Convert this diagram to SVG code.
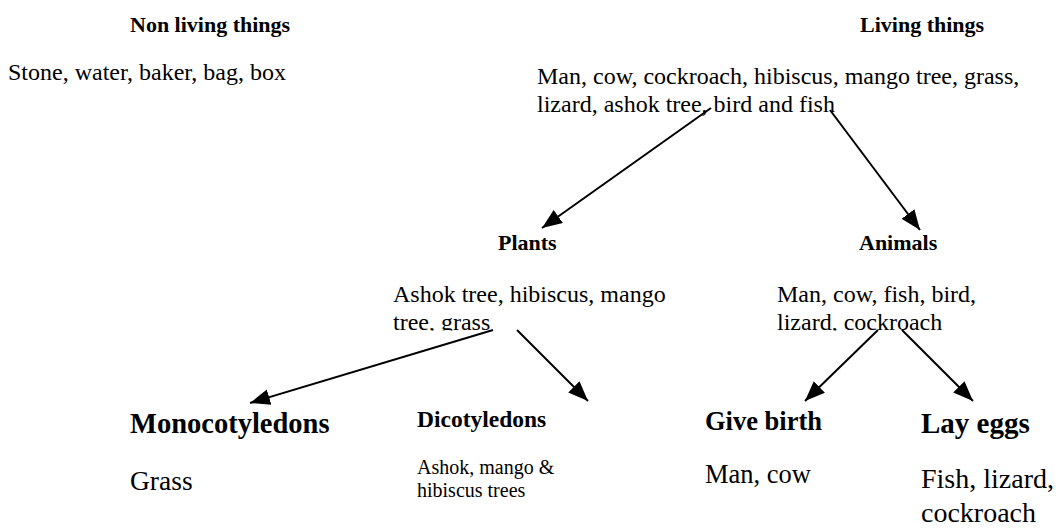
<svg xmlns="http://www.w3.org/2000/svg" width="1060" height="528" viewBox="0 0 1060 528">
<style>
text{font-family:"Liberation Serif","Times New Roman",serif;fill:#000}
.h{font-weight:bold;font-size:22px}
.b{font-size:24px}
.conn line{stroke:#000;stroke-width:2;marker-end:url(#ah)}
</style>
<defs>
<marker id="ah" markerUnits="userSpaceOnUse" markerWidth="22" markerHeight="18" refX="20" refY="8" orient="auto">
<path d="M0,0 L20,8 L0,16 z" fill="#000"/>
</marker>
<clipPath id="clipP"><rect x="380" y="270" width="320" height="60.5"/></clipPath>
<clipPath id="clipA"><rect x="760" y="270" width="300" height="60.5"/></clipPath>
</defs>
<rect width="1060" height="528" fill="#fff"/>
<g id="nonliving">
<text class="h" x="130" y="32">Non living things</text>
<text class="b" x="8" y="80">Stone, water, baker, bag, box</text>
</g>
<g id="living">
<text class="h" x="860" y="32">Living things</text>
<text class="b" x="537" y="84">Man, cow, cockroach, hibiscus, mango tree, grass,</text>
<text class="b" x="537" y="112">lizard, ashok tree, bird and fish</text>
</g>
<g id="plants">
<text class="h" x="498" y="250">Plants</text>
<text class="b" x="393" y="302">Ashok tree, hibiscus, mango</text>
<text class="b" x="393" y="330" clip-path="url(#clipP)">tree, grass</text>
</g>
<g id="animals">
<text class="h" x="859" y="250">Animals</text>
<text class="b" x="777" y="302">Man, cow, fish, bird,</text>
<text class="b" x="777" y="330" clip-path="url(#clipA)">lizard, cockroach</text>
</g>
<g id="monocot">
<text x="130" y="433" font-weight="bold" font-size="28.5">Monocotyledons</text>
<text x="130" y="490" font-size="27.5">Grass</text>
</g>
<g id="dicot">
<text x="417" y="427" font-weight="bold" font-size="23.5">Dicotyledons</text>
<text x="417" y="474" font-size="20">Ashok, mango &amp;</text>
<text x="417" y="497" font-size="20">hibiscus trees</text>
</g>
<g id="givebirth">
<text x="705" y="430" font-weight="bold" font-size="26.5">Give birth</text>
<text x="705" y="483" font-size="26.5">Man, cow</text>
</g>
<g id="layeggs">
<text x="921" y="433" font-weight="bold" font-size="29">Lay eggs</text>
<text x="921" y="488" font-size="28">Fish, lizard,</text>
<text x="921" y="522" font-size="28">cockroach</text>
</g>
<g id="connectors" class="conn">
<line x1="711" y1="108" x2="542" y2="228"/>
<line x1="830" y1="110" x2="920" y2="230"/>
<line x1="493" y1="330" x2="250" y2="403"/>
<line x1="517" y1="330" x2="588" y2="401"/>
<line x1="878" y1="330" x2="805" y2="401"/>
<line x1="902" y1="330" x2="973" y2="401"/>
</g>
</svg>
